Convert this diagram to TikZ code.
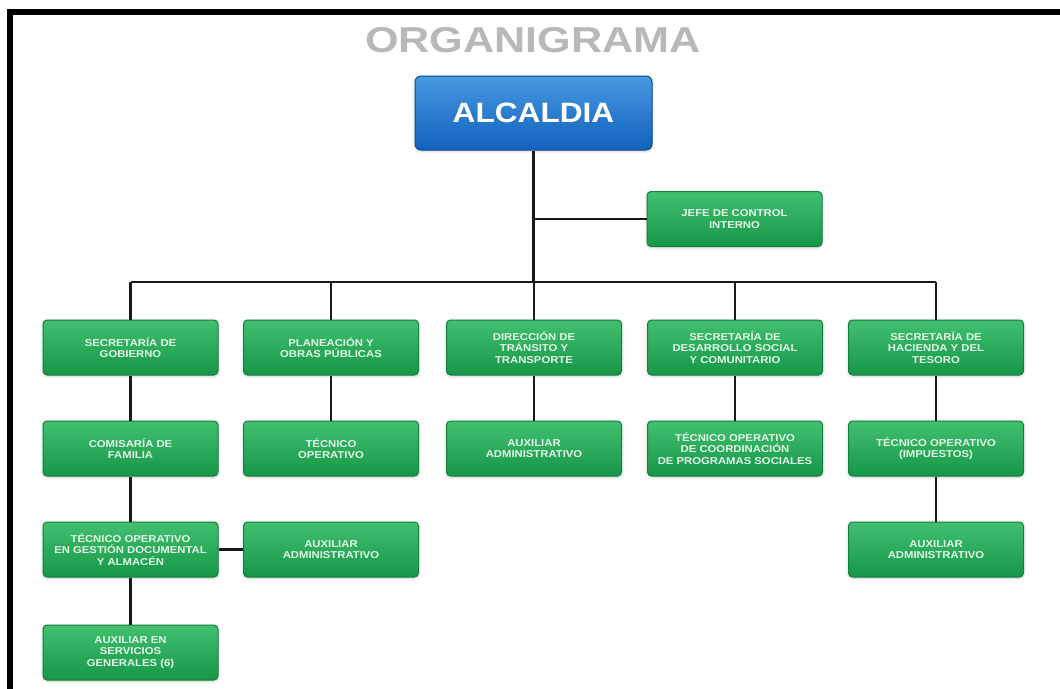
\documentclass[tikz,border=0pt]{standalone}
\usepackage{fontspec}
\setmainfont{Liberation Sans}
\newfontfamily\titlefont{Liberation Sans}[FakeStretch=1.2]
\newfontfamily\boxfont{Liberation Sans}[FakeStretch=1.13]
\usetikzlibrary{shadows.blur}

\definecolor{greentop}{RGB}{66,192,112}
\definecolor{greenbot}{RGB}{22,150,72}
\definecolor{greenedge}{RGB}{18,128,62}
\definecolor{bluetop}{RGB}{72,152,226}
\definecolor{bluebot}{RGB}{16,98,188}
\definecolor{blueedge}{RGB}{14,74,142}
\definecolor{minttext}{RGB}{226,246,230}
\definecolor{titlegray}{RGB}{184,184,184}

\tikzset{
  unitbox/.style={
    rectangle, rounded corners=4pt, line width=1pt, align=center,
    inner sep=0pt,
    blur shadow={shadow xshift=0pt, shadow yshift=-1pt,
                 shadow blur radius=3pt, shadow opacity=22}
  },
  greenbox/.style={
    unitbox, minimum width=175pt, minimum height=55pt,
    top color=greentop, bottom color=greenbot, draw=greenedge,
    text=minttext, font=\boxfont\bfseries\fontsize{10}{11.5}\selectfont
  },
  headbox/.style={
    unitbox, minimum width=237pt, minimum height=74pt, rounded corners=6pt,
    top color=bluetop, bottom color=bluebot, draw=blueedge,
    text=white, font=\boxfont\bfseries\fontsize{28}{30}\selectfont
  },
  link/.style={line width=2.4pt, black!90}
}

\begin{document}
\begin{tikzpicture}[x=1pt, y=-1pt]
\useasboundingbox (0,0) rectangle (1060,688);

% outer frame (top and left sides)
\draw[line width=6pt, line join=miter] (10,700) -- (10,12) -- (1075,12);

% title
\node[anchor=base, text=titlegray, font=\titlefont\bfseries\fontsize{36}{38}\selectfont, inner sep=0pt]
  (title) at (533,52) {ORGANIGRAMA};

% head
\node[headbox] (alc) at (533.5,113) {ALCALDIA};
\node[greenbox] (jefe) at (734.5,219) {JEFE DE CONTROL\\INTERNO};

% first level
\node[greenbox] (sg) at (130.5,347.5) {SECRETARÍA DE\\GOBIERNO};
\node[greenbox] (po) at (331,347.5) {PLANEACIÓN Y\\OBRAS PÚBLICAS};
\node[greenbox] (dt) at (534,347.5) {DIRECCIÓN DE\\TRÁNSITO Y\\TRANSPORTE};
\node[greenbox] (ds) at (735,347.5) {SECRETARÍA DE\\DESARROLLO SOCIAL\\Y COMUNITARIO};
\node[greenbox] (sh) at (936,347.5) {SECRETARÍA DE\\HACIENDA Y DEL\\TESORO};

% second level
\node[greenbox] (cf) at (130.5,448.5) {COMISARÍA DE\\FAMILIA};
\node[greenbox] (to) at (331,448.5) {TÉCNICO\\OPERATIVO};
\node[greenbox] (aa) at (534,448.5) {AUXILIAR\\ADMINISTRATIVO};
\node[greenbox] (toc) at (735,448.5) {TÉCNICO OPERATIVO\\DE COORDINACIÓN\\DE PROGRAMAS SOCIALES};
\node[greenbox] (toi) at (936,448.5) {TÉCNICO OPERATIVO\\(IMPUESTOS)};

% third level
\node[greenbox] (tog) at (130.5,549.5) {TÉCNICO OPERATIVO\\EN GESTIÓN DOCUMENTAL\\Y ALMACÉN};
\node[greenbox] (aag) at (331,549.5) {AUXILIAR\\ADMINISTRATIVO};
\node[greenbox] (aah) at (936,549.5) {AUXILIAR\\ADMINISTRATIVO};

% fourth level
\node[greenbox] (asg) at (130.5,652.5) {AUXILIAR EN\\SERVICIOS\\GENERALES (6)};

% connectors
\coordinate (bus) at (533,282);
\draw[link] (alc.south) -- (alc.south |- bus);
\draw[link] (alc.south |- jefe.west) -- (jefe.west);
\draw[link, line width=2.2pt] (sg.north |- bus) -- (sh.north |- bus);
\foreach \n in {sg,po,dt,ds,sh}
  \draw[link] (\n.north) -- (\n.north |- bus);
\draw[link] (sg) -- (cf);
\draw[link] (po) -- (to);
\draw[link] (dt) -- (aa);
\draw[link] (ds) -- (toc);
\draw[link] (sh) -- (toi);
\draw[link] (cf) -- (tog);
\draw[link] (toi) -- (aah);
\draw[link] (tog) -- (asg);
\draw[link] (tog.east) -- (aag.west);
\end{tikzpicture}
\end{document}
